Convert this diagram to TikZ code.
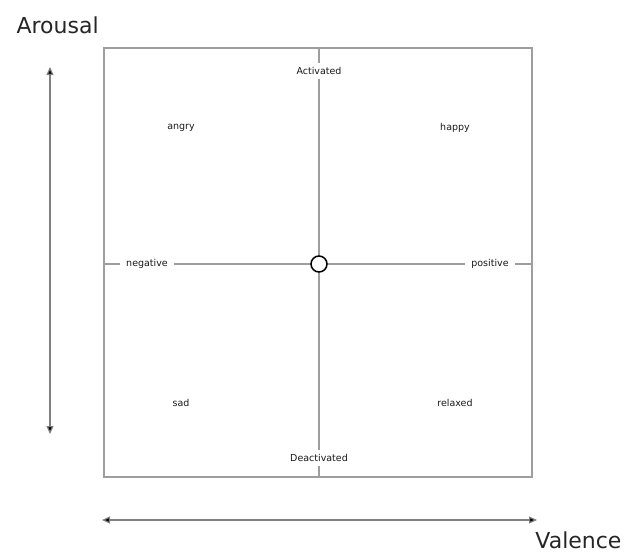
\documentclass[tikz,border=0pt]{standalone}
\usepackage{fontspec}
\usetikzlibrary{arrows.meta}
\setmainfont{DejaVu Sans}
\begin{document}
\begin{tikzpicture}[x=1pt,y=-1pt,
  frame/.style={draw=black!38,line width=1.3pt},
  axisline/.style={draw=black!38,line width=1.1pt},
  lbl/.style={font=\fontsize{9.5}{11}\selectfont,text=black!90,fill=white,inner xsep=6pt,inner ysep=4pt},
  mood/.style={font=\fontsize{9.5}{11}\selectfont,text=black!90},
  title/.style={font=\fontsize{22}{26}\selectfont,text=black!85},
  tip/.tip={Triangle[length=8pt,width=7pt,fill=black]},
  dimarrow/.style={draw=black!50,line width=1.2pt,{tip}-{tip}}]
\useasboundingbox (0,0) rectangle (628,554);
% quadrant frame
\draw[frame] (104,48) rectangle (532,477);
% axes through the neutral point
\coordinate (top) at (319,48);
\coordinate (bot) at (319,477);
\coordinate (lft) at (104,264);
\coordinate (rgt) at (532,264);
\draw[axisline] (top) -- (bot);
\draw[axisline] (lft) -- (rgt);
\node[lbl] (act) at (319,71) {Activated};
\node[lbl] (deact) at (319,458) {Deactivated};
\node[lbl] (neg) at (147,264) {negative};
\node[lbl] (pos) at (490,264) {positive};
\node[circle,draw=black,line width=1.5pt,fill=white,minimum size=16pt,inner sep=0pt] (origin) at (319,264) {};
% emotions in the four quadrants
\node[mood] (angry) at (181,128) {angry};
\node[mood] (happy) at (455,128) {happy};
\node[mood] (sad) at (181,403) {sad};
\node[mood] (relaxed) at (455,403) {relaxed};
% dimension arrows
\coordinate (arUp) at (50,67);
\coordinate (arDown) at (50,434);
\draw[dimarrow] (arDown) -- (arUp);
\coordinate (vaL) at (102,520);
\coordinate (vaR) at (537,520);
\draw[dimarrow] (vaL) -- (vaR);
\node[title,anchor=base west] (arousal) at (13,33) {Arousal};
\node[title,anchor=base east] (valence) at (625,548) {Valence};
\end{tikzpicture}
\end{document}
